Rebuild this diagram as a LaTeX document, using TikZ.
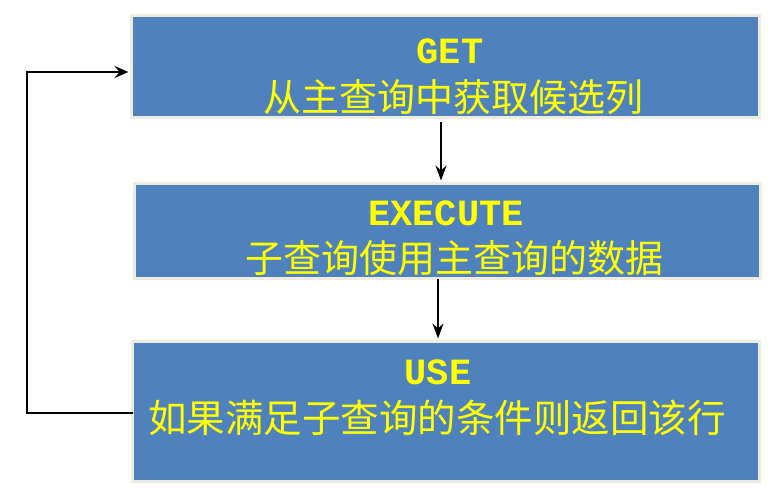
\documentclass[tikz,border=0pt]{standalone}
\usepackage{fontspec}
\setmonofont{Liberation Mono}
\newfontfamily\cjk{Noto Sans CJK SC}
\usetikzlibrary{arrows.meta}
\definecolor{boxblue}{HTML}{4F81BD}
\definecolor{boxedge}{HTML}{EEECE1}
\definecolor{txtyellow}{HTML}{FFFF00}
\begin{document}
\begin{tikzpicture}[x=1pt,y=-1pt,
  flowbox/.style={draw=boxedge,line width=3pt,fill=boxblue,inner sep=0pt,outer sep=0pt,rectangle},
  titletext/.style={anchor=base,inner sep=0pt,text=txtyellow,font=\fontsize{37pt}{40pt}\selectfont\ttfamily\bfseries},
  cjktext/.style={anchor=base,inner sep=0pt,text=txtyellow,font=\fontsize{38pt}{44pt}\selectfont\cjk},
  downarrow/.style={line width=2pt,-{Stealth[length=15pt,width=11pt,inset=5pt]}},
  backarrow/.style={line width=2.5pt,-{Stealth[length=14pt,width=12pt,inset=5pt]}}
]
\useasboundingbox (0,0) rectangle (771,498);
\fill[white] (0,0) rectangle (771,498);

\node[flowbox,minimum width=628pt,minimum height=102pt] (b1) at (445.5,66.5) {};
\node[flowbox,minimum width=626pt,minimum height=95pt] (b2) at (447.5,231) {};
\node[flowbox,minimum width=627pt,minimum height=140pt] (b3) at (446,411.5) {};

\node[titletext] (t1) at (450,63) {GET};
\node[cjktext] (c1) at (453,111) {从主查询中获取候选列};
\node[titletext] (t2) at (446,225) {EXECUTE};
\node[cjktext] (c2) at (454,272) {子查询使用主查询的数据};
\node[titletext] (t3) at (438,384) {USE};
\node[cjktext,font=\fontsize{38.5pt}{44pt}\selectfont\cjk] (c3) at (437,432) {如果满足子查询的条件则返回该行};

\coordinate (ax1) at (441,0);
\coordinate (ax2) at (438,0);
\draw[downarrow,shorten <=4pt,shorten >=3pt] (b1.south -| ax1) -- (b2.north -| ax1);
\draw[downarrow,shorten >=3pt] (b2.south -| ax2) -- (b3.north -| ax2);

\coordinate (fs) at ([yshift=-1.5pt]b3.west);
\coordinate (fe) at ([yshift=-5.5pt]b1.west);
\coordinate (lx) at (27,0);
\draw[backarrow,shorten >=3pt] (fs) -- (lx |- fs) -- (lx |- fe) -- (fe);
\end{tikzpicture}
\end{document}
